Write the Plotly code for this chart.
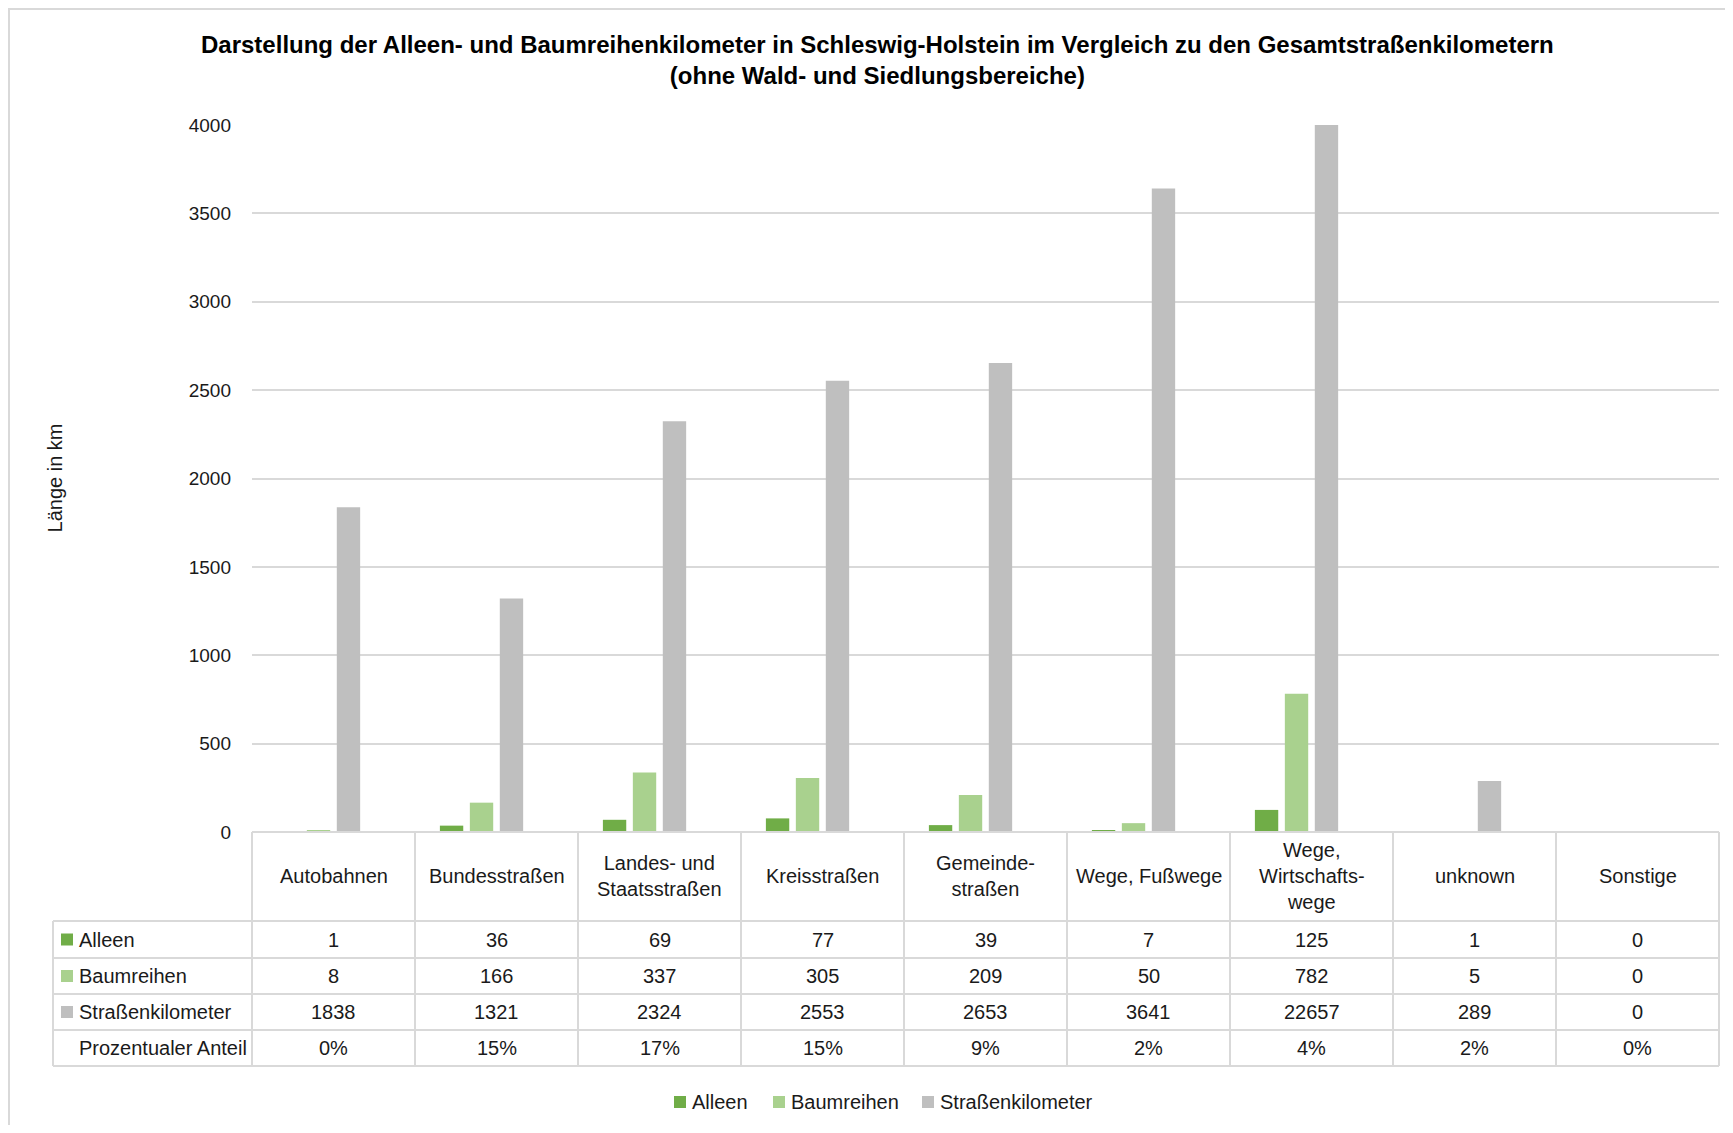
import plotly.graph_objects as go

categories = ["Autobahnen", "Bundesstraßen", "Landes- und<br>Staatsstraßen", "Kreisstraßen",
              "Gemeinde-<br>straßen", "Wege, Fußwege", "Wege,<br>Wirtschafts-<br>wege", "unknown", "Sonstige"]
alleen = [1, 36, 69, 77, 39, 7, 125, 1, 0]
baumreihen = [8, 166, 337, 305, 209, 50, 782, 5, 0]
strassenkm = [1838, 1321, 2324, 2553, 2653, 3641, 22657, 289, 0]
anteil_pct = [0, 15, 17, 15, 9, 2, 4, 2, 0]
y_ticks = [0, 500, 1000, 1500, 2000, 2500, 3000, 3500, 4000]

series_names = ["Alleen", "Baumreihen", "Straßenkilometer", "Prozentualer Anteil"]
colors = ["#70AD47", "#A9D18E", "#BFBFBF", "rgba(0,0,0,0)"]

OFF = 8  # page body margin
W, H = 1733 - 2 * OFF, 1133 - 2 * OFF
L, R, T, B = 252 - OFF, 1719 - OFF, 125 - OFF, 832 - OFF
FONT = "Liberation Sans, Arial, sans-serif"
GRID = "#D9D9D9"
TXT = "#1a1a1a"

def px(x):
    return (x - OFF - L) / (R - L)

def py(y):
    return (B - (y - OFF)) / (B - T)

PH = B - T
xcat = list(range(len(categories)))
fig = go.Figure()
values = [alleen, baumreihen, strassenkm, [p / 100 for p in anteil_pct]]
for name, vals, col in zip(series_names, values, colors):
    fig.add_trace(go.Bar(x=xcat, y=vals, name=name, marker=dict(color=col, line=dict(width=0)),
                         showlegend=False))

shapes = []
annotations = []

# outer chart border
shapes.append(dict(type="rect", xref="paper", yref="paper", x0=px(OFF + 1), x1=px(1760), y0=py(OFF + 1),
                   y1=py(1160), line=dict(color=GRID, width=2), fillcolor="rgba(0,0,0,0)", layer="below"))

# table lines
row_lines = [832, 921, 958, 994, 1030, 1066]
tbl_left = 53
n = len(categories)
for i, y in enumerate(row_lines):
    x0 = 252 if i == 0 else tbl_left
    shapes.append(dict(type="line", xref="paper", yref="paper", x0=px(x0), x1=1, y0=py(y), y1=py(y),
                       line=dict(color=GRID, width=2)))
for k in range(n + 1):
    shapes.append(dict(type="line", xref="paper", yref="paper", x0=k / n, x1=k / n, y0=py(832), y1=py(1066),
                       line=dict(color=GRID, width=2)))
shapes.append(dict(type="line", xref="paper", yref="paper", x0=px(tbl_left), x1=px(tbl_left),
                   y0=py(921), y1=py(1066), line=dict(color=GRID, width=2)))

# header labels
for k, c in enumerate(categories):
    annotations.append(dict(x=(k + 0.5) / n, y=py((832 + 921) / 2), xref="paper", yref="paper", text=c,
                            showarrow=False, xanchor="center", yanchor="middle",
                            font=dict(family=FONT, size=20, color=TXT)))

# rows
row_vals = [alleen, baumreihen, strassenkm, [f"{p}%" for p in anteil_pct]]
for r in range(4):
    yc = py((row_lines[r + 1] + row_lines[r + 2]) / 2)
    if r < 3:
        shapes.append(dict(type="rect", xref="paper", yref="paper", x0=px(61), x1=px(73),
                           y0=yc - 6 / PH, y1=yc + 6 / PH, fillcolor=colors[r], line=dict(width=0)))
    annotations.append(dict(x=px(77), y=yc, xref="paper", yref="paper", text=series_names[r], showarrow=False,
                            xanchor="left", yanchor="middle", font=dict(family=FONT, size=20, color=TXT)))
    for k in range(n):
        annotations.append(dict(x=(k + 0.5) / n, y=yc, xref="paper", yref="paper", text=str(row_vals[r][k]),
                                showarrow=False, xanchor="center", yanchor="middle",
                                font=dict(family=FONT, size=20, color=TXT)))

# bottom legend
leg_keys = [674, 773, 922]
leg_y = py(1102)
for r in range(3):
    shapes.append(dict(type="rect", xref="paper", yref="paper", x0=px(leg_keys[r]), x1=px(leg_keys[r] + 12),
                       y0=leg_y - 6 / PH, y1=leg_y + 6 / PH, fillcolor=colors[r], line=dict(width=0)))
    annotations.append(dict(x=px(leg_keys[r] + 16), y=leg_y, xref="paper", yref="paper", text=series_names[r],
                            showarrow=False, xanchor="left", yanchor="middle",
                            font=dict(family=FONT, size=20, color=TXT)))

# title
annotations.append(dict(x=px(877), y=py(60), xref="paper", yref="paper",
                        text="<b>Darstellung der Alleen- und Baumreihenkilometer in Schleswig-Holstein im Vergleich zu den Gesamtstraßenkilometern</b><br><b>(ohne Wald- und Siedlungsbereiche)</b>",
                        showarrow=False, xanchor="center", yanchor="middle",
                        font=dict(family=FONT, size=24, color="#000000")))
# y-axis title
annotations.append(dict(x=px(55), y=py(433 * 1.105), xref="paper", yref="paper", text="Länge in km",
                        textangle=-90, showarrow=False, xanchor="center", yanchor="middle",
                        font=dict(family=FONT, size=20, color=TXT)))

fig.update_layout(
    width=W, height=H,
    margin=dict(l=L, r=W - R, t=T, b=H - B, autoexpand=False),
    paper_bgcolor="white", plot_bgcolor="white",
    barmode="group", bargap=0.265, bargroupgap=0.22,
    xaxis=dict(range=[-0.5, n - 0.5], showticklabels=False, showgrid=False, zeroline=False,
               showline=False, ticks=""),
    yaxis=dict(range=[0, 4000], tickvals=y_ticks, showgrid=True, gridcolor=GRID, gridwidth=2,
               zeroline=False, showline=False, ticks="", ticklabelstandoff=20,
               tickfont=dict(family=FONT, size=19, color=TXT)),
    shapes=shapes, annotations=annotations,
    showlegend=False,
)

fig.write_html("out.html")
